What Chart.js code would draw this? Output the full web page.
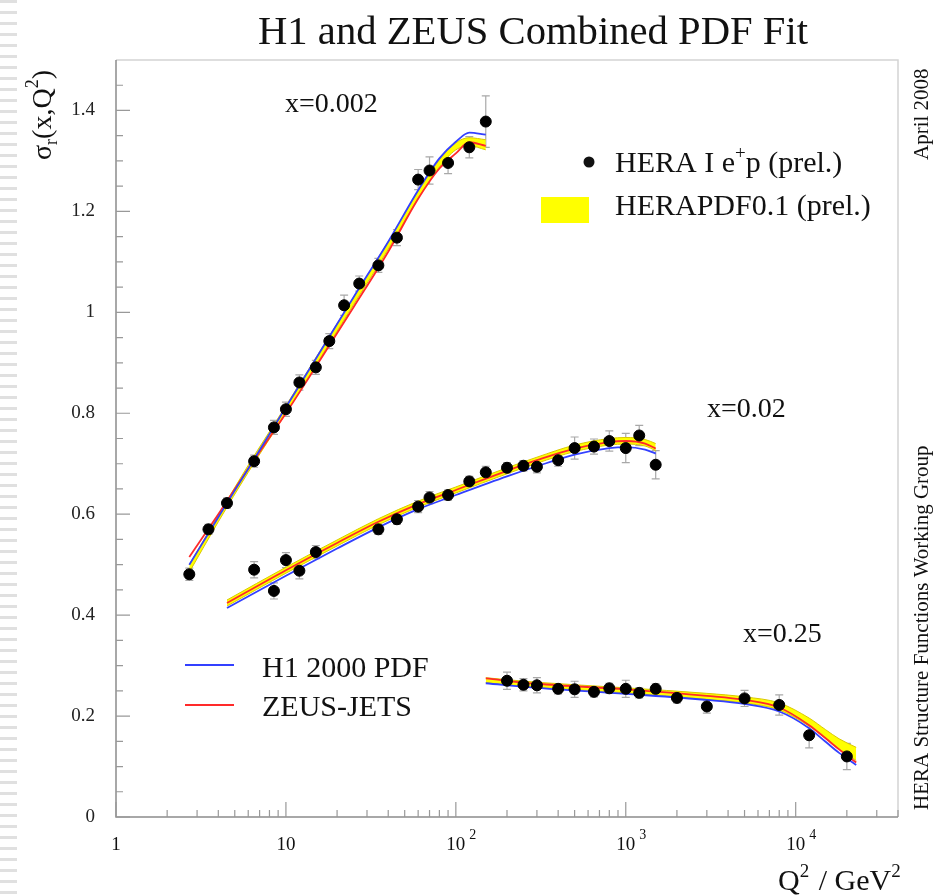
<!DOCTYPE html>
<html lang="en">
<head>
<meta charset="UTF-8">
<title>H1 and ZEUS Combined PDF Fit</title>
<script src="https://cdn.jsdelivr.net/npm/chart.js"></script>
<style>
    body { margin: 0; background: #fff; }
    .wrap { position: relative; width: 941px; height: 896px; }
    .strip {
        position: absolute; left: 0; top: 0; width: 17px; height: 896px;
        background: repeating-linear-gradient(to bottom, #e0e0e0 0 3px, transparent 3px 11px);
    }
    canvas { position: absolute; left: 0; top: 0; }
</style>
</head>
<body>
<div class="wrap">
    <div class="strip"></div>
    <canvas id="chart" width="941" height="896"></canvas>
</div>
<script>
// axis ticks
const xTicks = [1, 10, 100, 1000, 10000];
const xTickBase = ['1', '10', '10', '10', '10'];
const xTickExp = ['', '', '2', '3', '4'];
const yTicks = [0, 0.2, 0.4, 0.6, 0.8, 1.0, 1.2, 1.4];
const yTickLabels = ['0', '0.2', '0.4', '0.6', '0.8', '1', '1.2', '1.4'];

// HERA I e+p data, x = 0.002
const q2_002 = [2.7, 3.5, 4.5, 6.5, 8.5, 10, 12, 15, 18, 22, 27, 35, 45, 60, 70, 90, 120, 150];
const sig_002 = [0.481, 0.570, 0.622, 0.705, 0.772, 0.808, 0.861, 0.891, 0.943, 1.014, 1.057, 1.093, 1.148, 1.263, 1.281, 1.296, 1.327, 1.378];
const err_002 = [0.012, 0.010, 0.010, 0.012, 0.014, 0.014, 0.015, 0.014, 0.015, 0.020, 0.015, 0.014, 0.016, 0.020, 0.027, 0.021, 0.021, 0.051];

// x = 0.02
const q2_02 = [6.5, 8.5, 10, 12, 15, 35, 45, 60, 70, 90, 120, 150, 200, 250, 300, 400, 500, 650, 800, 1000, 1200, 1500];
const sig_02 = [0.490, 0.448, 0.509, 0.488, 0.525, 0.570, 0.590, 0.615, 0.633, 0.638, 0.665, 0.683, 0.692, 0.696, 0.694, 0.707, 0.731, 0.734, 0.745, 0.731, 0.756, 0.698];
const err_02 = [0.016, 0.016, 0.015, 0.016, 0.013, 0.010, 0.010, 0.012, 0.012, 0.010, 0.010, 0.012, 0.010, 0.010, 0.012, 0.012, 0.022, 0.015, 0.020, 0.029, 0.020, 0.028];

// x = 0.25
const q2_25 = [200, 250, 300, 400, 500, 650, 800, 1000, 1200, 1500, 2000, 3000, 5000, 8000, 12000, 20000];
const sig_25 = [0.270, 0.262, 0.261, 0.254, 0.253, 0.248, 0.255, 0.254, 0.246, 0.254, 0.236, 0.219, 0.235, 0.222, 0.162, 0.120];
const err_25 = [0.017, 0.012, 0.015, 0.010, 0.016, 0.010, 0.010, 0.017, 0.010, 0.010, 0.010, 0.013, 0.016, 0.020, 0.025, 0.026];

// fit curves (H1 2000 PDF, ZEUS-JETS, HERAPDF0.1 band)
const cq_002 = [2.7, 4, 6, 10, 15, 25, 40, 60, 80, 100, 120, 150];
const h1_002 = [0.500, 0.594, 0.690, 0.812, 0.908, 1.030, 1.140, 1.242, 1.305, 1.338, 1.356, 1.352];
const zeus_002 = [0.515, 0.600, 0.690, 0.800, 0.892, 1.010, 1.120, 1.225, 1.285, 1.315, 1.337, 1.330];
const bandLo_002 = [0.485, 0.585, 0.683, 0.800, 0.895, 1.015, 1.125, 1.226, 1.288, 1.322, 1.330, 1.322];
const bandHi_002 = [0.500, 0.598, 0.697, 0.815, 0.910, 1.030, 1.140, 1.240, 1.302, 1.336, 1.346, 1.342];

const cq_02 = [4.5, 10, 20, 35, 60, 100, 200, 300, 500, 800, 1000, 1300, 1500];
const h1_02 = [0.414, 0.478, 0.532, 0.574, 0.610, 0.638, 0.675, 0.695, 0.718, 0.731, 0.733, 0.728, 0.720];
const zeus_02 = [0.424, 0.489, 0.543, 0.585, 0.620, 0.648, 0.686, 0.707, 0.730, 0.743, 0.745, 0.740, 0.730];
const bandLo_02 = [0.418, 0.483, 0.537, 0.579, 0.614, 0.642, 0.680, 0.701, 0.724, 0.737, 0.739, 0.735, 0.726];
const bandHi_02 = [0.430, 0.495, 0.549, 0.591, 0.626, 0.654, 0.692, 0.713, 0.737, 0.750, 0.752, 0.748, 0.740];

const cq_25 = [150, 300, 1000, 3000, 5000, 8000, 12000, 15000, 18000, 22700];
const h1_25 = [0.265, 0.256, 0.244, 0.232, 0.224, 0.209, 0.176, 0.149, 0.127, 0.103];
const zeus_25 = [0.2746, 0.264, 0.253, 0.240, 0.232, 0.217, 0.182, 0.156, 0.134, 0.108];
const bandLo_25 = [0.266, 0.257, 0.246, 0.233, 0.226, 0.212, 0.180, 0.156, 0.135, 0.112];
const bandHi_25 = [0.276, 0.267, 0.256, 0.245, 0.238, 0.226, 0.196, 0.173, 0.155, 0.138];

const SERIF = '"Liberation Serif", "Times New Roman", serif';
const BLUE = '#3340ff';
const RED = '#ff2a2a';

function pts(xs, ys) {
    return xs.map((x, i) => ({x: x, y: ys[i]}));
}

function dataSet(xs, ys) {
    return {data: pts(xs, ys), backgroundColor: '#000', borderColor: '#000', pointRadius: 5.5, pointHoverRadius: 5.5};
}

function curve(xs, ys, color) {
    return {data: pts(xs, ys), showLine: true, pointRadius: 0, borderColor: color, borderWidth: 1.8,
        cubicInterpolationMode: 'monotone', fill: false};
}

function band(xs, ys, target) {
    return {data: pts(xs, ys), showLine: true, pointRadius: 0, borderColor: '#d9c700', borderWidth: 1,
        backgroundColor: '#ffff00', cubicInterpolationMode: 'monotone',
        fill: target === undefined ? false : {target: target}};
}

const errorSeries = [
    {q: q2_002, s: sig_002, e: err_002},
    {q: q2_02, s: sig_02, e: err_02},
    {q: q2_25, s: sig_25, e: err_25}
];

// draws a run of text pieces, optionally rotated
function rich(ctx, x, y, parts, angle) {
    ctx.save();
    ctx.translate(x, y);
    ctx.rotate(angle || 0);
    ctx.textAlign = 'left';
    ctx.textBaseline = 'alphabetic';
    let cx = 0;
    parts.forEach(p => {
        ctx.font = p.size + 'px ' + SERIF;
        ctx.fillText(p.t, cx, p.dy || 0);
        cx += ctx.measureText(p.t).width + (p.gap || 0);
    });
    ctx.restore();
}

const errorBars = {
    id: 'errorBars',
    beforeDatasetsDraw(chart) {
        const ctx = chart.ctx, xs = chart.scales.x, ys = chart.scales.y;
        ctx.save();
        ctx.strokeStyle = '#a8a8a8';
        ctx.lineWidth = 1.2;
        errorSeries.forEach(ser => {
            ser.q.forEach((q, i) => {
                const px = xs.getPixelForValue(q);
                const top = ys.getPixelForValue(ser.s[i] + ser.e[i]);
                const bot = ys.getPixelForValue(ser.s[i] - ser.e[i]);
                ctx.beginPath();
                ctx.moveTo(px, top); ctx.lineTo(px, bot);
                ctx.moveTo(px - 4, top); ctx.lineTo(px + 4, top);
                ctx.moveTo(px - 4, bot); ctx.lineTo(px + 4, bot);
                ctx.stroke();
            });
        });
        ctx.restore();
    }
};

const frame = {
    id: 'frame',
    afterDraw(chart) {
        const ctx = chart.ctx, a = chart.chartArea;
        const xs = chart.scales.x, ys = chart.scales.y;
        ctx.save();
        // light top/right frame
        ctx.strokeStyle = '#d4d4d4';
        ctx.lineWidth = 1.5;
        ctx.beginPath();
        ctx.moveTo(a.left, a.top); ctx.lineTo(a.right, a.top); ctx.lineTo(a.right, a.bottom);
        ctx.stroke();
        // axes
        ctx.strokeStyle = '#8c8c8c';
        ctx.beginPath();
        ctx.moveTo(a.left, a.top); ctx.lineTo(a.left, a.bottom); ctx.lineTo(a.right, a.bottom);
        ctx.stroke();
        // inward ticks
        ctx.lineWidth = 1.2;
        ctx.strokeStyle = '#999';
        ctx.beginPath();
        for (let k = 0; k <= 30; k++) {
            const py = ys.getPixelForValue(k * 0.05);
            if (py < a.top + 1) continue;
            const len = (k % 4 === 0) ? 14 : 7;
            ctx.moveTo(a.left, py); ctx.lineTo(a.left + len, py);
        }
        for (let d = 0; d <= 4; d++) {
            for (let m = 1; m <= 9; m++) {
                const v = m * Math.pow(10, d);
                if (v > xs.max) break;
                const px = xs.getPixelForValue(v);
                const len = m === 1 ? 15 : 7;
                ctx.moveTo(px, a.bottom); ctx.lineTo(px, a.bottom - len);
            }
        }
        ctx.stroke();

        ctx.fillStyle = '#111';
        // x tick labels
        xTicks.forEach((v, i) => {
            const px = xs.getPixelForValue(v);
            ctx.font = '19px ' + SERIF;
            ctx.textAlign = 'center';
            ctx.fillText(xTickBase[i], px, 850);
            if (xTickExp[i]) {
                const w = ctx.measureText(xTickBase[i]).width;
                ctx.font = '14px ' + SERIF;
                ctx.textAlign = 'left';
                ctx.fillText(xTickExp[i], px + w / 2 + 4, 839);
            }
        });

        // title
        ctx.font = '41px ' + SERIF;
        ctx.textAlign = 'left';
        ctx.fillText('H1 and ZEUS Combined PDF Fit', 258, 44, 550);

        // axis titles
        rich(ctx, 778, 890, [
            {t: 'Q', size: 30}, {t: '2', size: 19, dy: -13, gap: 2},
            {t: ' / GeV', size: 30}, {t: '2', size: 19, dy: -13}
        ]);
        rich(ctx, 51, 160, [
            {t: 'σ', size: 28}, {t: 'r', size: 18, dy: 6},
            {t: '(x,Q', size: 28}, {t: '2', size: 18, dy: -13}, {t: ')', size: 28}
        ], -Math.PI / 2);

        // side notes
        ctx.save();
        ctx.translate(928, 160);
        ctx.rotate(-Math.PI / 2);
        ctx.font = '21px ' + SERIF;
        ctx.fillText('April 2008', 0, 0, 95);
        ctx.restore();
        ctx.save();
        ctx.translate(928, 810);
        ctx.rotate(-Math.PI / 2);
        ctx.font = '21px ' + SERIF;
        ctx.fillText('HERA Structure Functions Working Group', 0, 0, 380);
        ctx.restore();

        // bin labels
        ctx.font = '28px ' + SERIF;
        ctx.fillText('x=0.002', 285, 112);
        ctx.fillText('x=0.02', 707, 417);
        ctx.fillText('x=0.25', 743, 642);

        // legend (data / band)
        ctx.beginPath();
        ctx.arc(589, 162, 5.5, 0, Math.PI * 2);
        ctx.fill();
        rich(ctx, 615, 172, [
            {t: 'HERA I e', size: 30}, {t: '+', size: 19, dy: -13}, {t: 'p (prel.)', size: 30}
        ]);
        ctx.fillStyle = '#ffff00';
        ctx.fillRect(541, 197, 48, 26);
        ctx.fillStyle = '#111';
        ctx.font = '30px ' + SERIF;
        ctx.fillText('HERAPDF0.1 (prel.)', 615, 215);

        // legend (curves)
        ctx.lineWidth = 1.8;
        ctx.strokeStyle = BLUE;
        ctx.beginPath(); ctx.moveTo(185, 665); ctx.lineTo(234, 665); ctx.stroke();
        ctx.strokeStyle = RED;
        ctx.beginPath(); ctx.moveTo(185, 705); ctx.lineTo(234, 705); ctx.stroke();
        ctx.fillText('H1 2000 PDF', 262, 677);
        ctx.fillText('ZEUS-JETS', 262, 716);
        ctx.restore();
    }
};

const ctx = document.getElementById('chart').getContext('2d');
new Chart(ctx, {
    type: 'scatter',
    data: {
        datasets: [
            dataSet(q2_002, sig_002),
            dataSet(q2_02, sig_02),
            dataSet(q2_25, sig_25),
            curve(cq_002, h1_002, BLUE),
            curve(cq_02, h1_02, BLUE),
            curve(cq_25, h1_25, BLUE),
            curve(cq_002, zeus_002, RED),
            curve(cq_02, zeus_02, RED),
            curve(cq_25, zeus_25, RED),
            band(cq_002, bandLo_002),
            band(cq_002, bandHi_002, 9),
            band(cq_02, bandLo_02),
            band(cq_02, bandHi_02, 11),
            band(cq_25, bandLo_25),
            band(cq_25, bandHi_25, 13)
        ]
    },
    options: {
        responsive: false,
        animation: false,
        layout: {padding: {top: 60, right: 43, left: 0, bottom: 0}},
        plugins: {
            legend: {display: false},
            tooltip: {enabled: false},
            title: {display: false}
        },
        scales: {
            x: {
                type: 'logarithmic',
                min: 1,
                max: 40000,
                grid: {display: false},
                border: {display: false},
                ticks: {display: false},
                afterBuildTicks: s => { s.ticks = xTicks.map(v => ({value: v})); },
                afterFit: s => { s.height = 79; }
            },
            y: {
                min: 0,
                max: 1.5,
                grid: {display: false, drawTicks: false},
                border: {display: false},
                afterBuildTicks: s => { s.ticks = yTicks.map(v => ({value: v})); },
                ticks: {
                    padding: 21,
                    color: '#222',
                    font: {family: SERIF, size: 19},
                    callback: (v, i) => yTickLabels[i]
                },
                afterFit: s => { s.width = 116; }
            }
        }
    },
    plugins: [errorBars, frame]
});
</script>
</body>
</html>
